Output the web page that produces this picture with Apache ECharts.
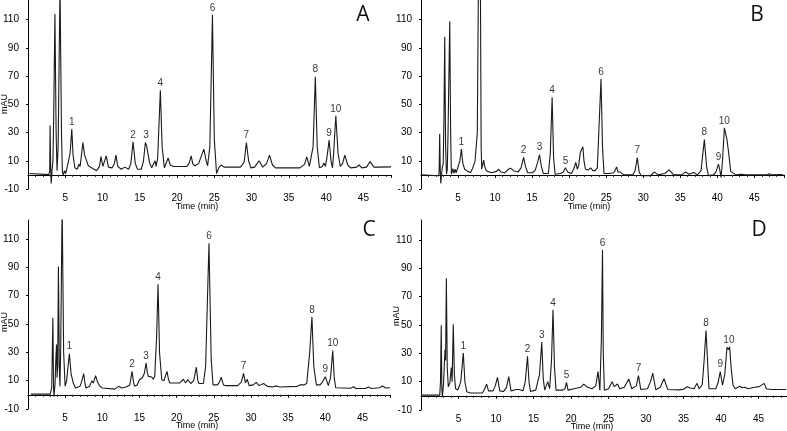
<!DOCTYPE html>
<html><head><meta charset="utf-8">
<script src="https://cdn.jsdelivr.net/npm/echarts@6/dist/echarts.min.js"></script>
<style>html,body{margin:0;padding:0;background:#fff}#c{width:787px;height:431px}</style>
</head><body><div id="c"></div>
<script>
// Chromatogram traces [time (min), mAU]
const traceA = [[0.2,1],[2.8,0.2],[2.92,3],[2.97,35],[3.05,5],[3.12,-6],[3.25,4],[3.35,10],[3.45,40],[3.62,114],[3.78,30],[3.9,3],[4.05,20],[4.3,135],[4.5,30],[4.62,2],[4.75,0],[4.9,3],[5.05,1],[5.2,4],[5.4,3],[5.65,15],[5.88,32.5],[6.05,14],[6.3,5],[6.6,4],[6.85,7.5],[7.0,6],[7.2,15],[7.37,23],[7.6,14],[8.1,6.5],[8.7,4.5],[9.2,3],[9.6,6],[9.8,13],[10.05,6],[10.2,5],[10.5,13.5],[10.8,5.5],[11.3,5],[11.6,8],[11.8,14],[12.05,6],[12.5,4],[13.0,5.5],[13.5,4],[13.8,8],[14.1,23.5],[14.4,8],[14.7,4],[15.2,4],[15.5,10],[15.75,23],[15.9,21],[16.05,20.5],[16.3,9],[16.6,5],[16.85,6],[17.05,10],[17.2,6],[17.4,12],[17.76,60],[18.0,20],[18.3,5],[18.55,6],[18.8,12],[19.1,7],[19.5,6],[20.5,6],[21.3,6],[21.6,8],[21.9,13.5],[22.1,8],[22.4,6.5],[22.9,8],[23.3,14],[23.6,18.3],[23.9,10],[24.1,6.5],[24.4,20],[24.75,113.5],[25.0,25],[25.3,1],[25.6,5],[25.9,7],[26.3,5.5],[27.5,5.5],[28.5,5.5],[29.0,9],[29.3,23],[29.6,10],[29.9,5],[30.4,5.5],[31.0,10],[31.5,5.5],[32.0,8],[32.4,14],[32.8,7],[33.2,5],[36.5,5],[37.1,7.5],[37.4,12.8],[37.75,6],[38.0,5],[38.25,20],[38.55,69.6],[38.8,20],[39.1,5],[39.5,6],[39.7,8.5],[39.9,6],[40.1,12],[40.4,24.7],[40.65,10],[40.85,5],[41.0,15],[41.3,41.9],[41.6,15],[41.9,6],[42.2,8],[42.5,14],[42.9,7],[43.3,5],[44.1,5.5],[44.4,7],[44.8,5],[45.4,5.5],[45.9,9.4],[46.4,5.5],[47.0,5.5],[48.7,5.7]];
const traceB = [[0,0],[2.4,-0.6],[2.46,5],[2.52,29],[2.6,3],[2.67,-6],[2.8,2],[2.9,6],[3.0,8],[3.1,40],[3.2,98],[3.32,20],[3.44,0.5],[3.55,4],[3.65,30],[3.88,109],[4.0,30],[4.1,0.5],[4.3,4.5],[4.45,1],[4.6,4],[4.75,1.5],[4.9,4],[5.1,5],[5.25,10],[5.45,18.3],[5.65,8],[5.9,4],[6.3,2.5],[6.7,1.7],[7.0,5],[7.3,10],[7.45,9],[7.6,30],[7.75,135],[8.02,135],[8.12,20],[8.2,4],[8.3,5],[8.46,10.5],[8.6,6],[8.8,3],[9.5,1.5],[10.2,2.5],[10.5,4],[10.8,2],[11.3,1.5],[11.8,4],[12.1,4.8],[12.5,3],[13.1,2],[13.5,5],[13.85,12.4],[14.1,6],[14.4,1.5],[15.0,1.5],[15.4,3],[15.75,9],[16.0,14.3],[16.25,6],[16.5,1],[17.2,1],[17.45,15],[17.7,55],[17.9,12],[18.1,0.5],[18.8,1],[19.2,2],[19.5,5],[19.8,2],[20.3,1],[20.6,4],[20.9,8.8],[21.1,4],[21.3,7],[21.5,15.9],[21.65,15],[21.85,20],[22.0,10],[22.2,4],[22.6,3.5],[22.9,5],[23.2,3],[23.5,3],[23.8,5],[24.0,30],[24.3,68],[24.5,20],[24.7,1],[25.5,1],[26.0,1.5],[26.2,3],[26.4,5.7],[26.6,2],[26.9,2],[27.1,1.5],[27.4,0],[28.6,0],[28.9,3],[29.2,12.3],[29.45,2],[29.7,-0.5],[31.0,-0.6],[31.5,2.1],[32.0,0],[32.9,1],[33.5,3.6],[34.1,0],[35.2,0],[35.7,2.1],[36.2,0.5],[36.8,1.7],[37.3,0],[37.8,3],[38.25,25],[38.55,6],[38.8,-0.5],[39.5,0],[39.8,2],[40.15,7.6],[40.35,3],[40.5,-1.8],[40.7,10],[40.95,33.4],[41.3,25],[41.5,17],[41.8,2.5],[42.0,2.5],[42.5,0],[43.2,0.5],[43.4,1],[43.8,0],[46.7,0],[47.0,0.8],[47.3,0],[48.5,0.3],[48.9,0]];
const traceC = [[0.4,0.5],[3.0,0.5],[3.2,5],[3.35,54.4],[3.45,5],[3.5,-1.1],[3.65,8],[3.75,25],[3.85,35.5],[3.92,12],[4.0,20],[4.1,90.6],[4.22,20],[4.3,6],[4.4,30],[4.6,135],[4.8,30],[5.0,6],[5.2,10],[5.57,29],[5.8,15],[6.1,8.3],[6.4,4.8],[7.0,6],[7.2,9],[7.5,15],[7.65,9],[7.8,4.8],[8.3,6],[8.6,10],[8.8,8.3],[9.1,13.5],[9.3,10],[9.6,6.5],[10.0,4.8],[11.7,4],[12.2,6],[12.6,4.8],[13.2,5.5],[13.7,7],[14.0,16.6],[14.2,9],[14.35,6],[14.7,7],[15.0,10.7],[15.2,9.5],[15.4,12],[15.65,15],[15.9,22.5],[16.05,16],[16.2,13],[16.65,12.6],[16.85,11],[17.05,13],[17.3,40],[17.5,78],[17.7,30],[18.0,10.7],[18.3,10],[18.7,16.6],[18.9,11],[19.1,8.3],[20.4,8.3],[20.9,11],[21.2,8.3],[21.5,10.7],[21.9,8],[22.3,10],[22.65,19.5],[22.85,10],[23.0,8],[23.6,8],[23.9,20],[24.35,107],[24.65,25],[24.9,7],[25.5,7],[25.75,9],[26.0,12.4],[26.3,7],[26.6,6.5],[28.2,6.5],[28.7,9],[29.0,15.2],[29.25,8.5],[29.5,11],[29.75,6.5],[30.3,7],[30.7,8.8],[31.1,6.5],[31.7,8],[32.2,6],[33.0,5.5],[33.3,6.3],[33.9,5.5],[36.2,6],[36.6,7],[37.1,7],[37.5,8],[37.9,30],[38.2,55],[38.45,20],[38.8,7],[39.3,7],[39.6,9],[40.0,12.8],[40.4,6.5],[40.7,12],[41.0,31.3],[41.2,12],[41.4,5],[43.4,4.6],[43.8,5.7],[44.1,4.5],[45.4,4.5],[45.8,5.5],[46.2,4.5],[47.3,5],[47.7,6.2],[48.1,4.8],[48.7,5]];
const traceD = [[0,0.5],[2.5,0.5],[2.6,10],[2.7,49.8],[2.78,5],[2.85,-0.7],[3.0,8],[3.2,32.6],[3.28,25],[3.38,83],[3.5,20],[3.64,6.4],[3.85,9],[4.04,20],[4.15,10],[4.3,50.5],[4.45,15],[4.6,5.2],[4.75,6.5],[4.9,4],[5.05,6],[5.3,10],[5.64,30.2],[5.85,10],[6.1,2.9],[6.6,2],[8.2,2],[8.45,4.5],[8.75,8.3],[9.0,3.5],[9.6,3.5],[9.9,7],[10.2,13],[10.5,3.5],[11.0,3],[11.4,6],[11.7,13.6],[12.0,3.5],[12.7,4.5],[13.1,4.5],[13.6,3.5],[13.9,10],[14.2,27.9],[14.4,10],[14.6,3],[15.3,4],[15.8,15],[16.1,37.9],[16.3,12],[16.5,4],[16.9,10],[17.15,5],[17.4,25],[17.6,60.7],[17.8,20],[18.0,4],[18.9,4],[19.2,5],[19.4,9.5],[19.6,4],[20.4,5],[21.3,6],[21.7,8.3],[22.2,6],[22.8,5],[23.3,7],[23.6,17.1],[23.85,4],[24.05,40],[24.2,103],[24.3,30],[24.45,4],[25.0,5],[25.5,10],[25.75,6.5],[26.2,8.3],[26.5,5],[27.1,6],[27.7,11.9],[28.1,5],[28.7,7],[29.0,14.3],[29.3,4.5],[30.2,5],[30.6,10],[30.9,16],[31.3,4.3],[31.9,6],[32.4,12],[32.9,4.5],[34.5,4.2],[35.0,4.6],[35.5,6.4],[35.9,5.5],[36.4,5],[36.8,8.8],[37.1,5],[37.5,8],[37.75,25],[38.0,46],[38.25,20],[38.4,5],[39.3,5],[39.6,9],[39.9,17.1],[40.2,7.5],[40.5,15],[40.8,34.3],[41.0,32.6],[41.15,34.5],[41.35,20],[41.6,7.5],[41.9,5],[42.5,6.7],[42.8,5.7],[43.2,6],[43.6,5],[44.5,6],[45.1,6.5],[45.75,8.8],[46.05,5],[46.6,4.5],[48.7,4.5]];

// Peak number labels [time, apex mAU, label]
const peaksA = [[5.88,32.5,'1'],[14.1,23.5,'2'],[15.85,23,'3'],[17.76,60,'4'],[24.75,113.5,'6'],[29.3,23,'7'],[38.55,69.6,'8'],[40.4,24.7,'9'],[41.3,41.9,'10']];
const peaksB = [[5.45,18.3,'1'],[13.85,12.4,'2'],[16.0,14.3,'3'],[17.7,55,'4'],[19.5,5,'5'],[24.3,68,'6'],[29.2,12.3,'7'],[38.25,25,'8'],[40.15,7.6,'9'],[40.95,33.4,'10']];
const peaksC = [[5.57,29,'1'],[14.0,16.6,'2'],[15.9,22.5,'3'],[17.5,78,'4'],[24.35,107,'6'],[29.0,15.2,'7'],[38.2,55,'8'],[40.0,12.8,'9'],[41.0,31.3,'10']];
const peaksD = [[5.64,30.2,'1'],[14.2,27.9,'2'],[16.1,37.9,'3'],[17.6,60.7,'4'],[19.4,9.5,'5'],[24.2,103,'6'],[29.0,14.3,'7'],[38.0,46,'8'],[39.9,17.1,'9'],[41.05,34.5,'10']];

const yTicks = [-10, 10, 30, 50, 70, 90, 110];
const xTicks = [5, 10, 15, 20, 25, 30, 35, 40, 45];
const panelNames = ['A', 'B', 'C', 'D'];
const yName = 'mAU';
const xName = 'Time (min)';

const chart = echarts.init(document.getElementById('c'), null, {renderer: 'canvas'});
const FONT = 'Liberation Sans Narrow, Liberation Sans, Arial, sans-serif';

const grids = [
  {left: 26, top: 0, width: 365, height: 189},
  {left: 421, top: 0, width: 363, height: 189},
  {left: 25, top: 220, width: 365, height: 189},
  {left: 421, top: 220, width: 366, height: 190}
];
const xMax = [48.7, 49, 48.7, 48.8];
const yMax = [124, 124, 123.4, 124];
const traces = [traceA, traceB, traceC, traceD];
const peaks = [peaksA, peaksB, peaksC, peaksD];

const xAxes = grids.map((g, i) => ({
  gridIndex: i, type: 'value', min: 0, max: xMax[i], interval: 5,
  axisLine: {show: true, lineStyle: {color: '#000', width: 1}},
  axisTick: {show: true, length: 3, lineStyle: {color: '#000'}},
  minorTick: {show: true, splitNumber: 5, length: 2, lineStyle: {color: '#222'}},
  splitLine: {show: false},
  axisLabel: {color: '#000', fontSize: 10, fontFamily: FONT, margin: 4, showMinLabel: false, showMaxLabel: false,
    formatter: v => xTicks.includes(v) ? String(v) : ''}
}));
const yAxes = grids.map((g, i) => ({
  gridIndex: i, type: 'value', min: -10, max: yMax[i], interval: 20,
  axisLine: {show: true, lineStyle: {color: '#000', width: 1}},
  axisTick: {show: true, length: 2, lineStyle: {color: '#000'}},
  splitLine: {show: false},
  axisLabel: {color: '#000', fontSize: 10, fontFamily: FONT, margin: 9, showMaxLabel: false,
    formatter: v => yTicks.includes(v) ? String(v) : ''}
}));

const series = [];
traces.forEach((t, i) => {
  series.push({type: 'line', xAxisIndex: i, yAxisIndex: i, data: t, showSymbol: false, symbol: 'none',
    lineStyle: {color: '#1a1a1a', width: 1.1}, clip: true, animation: false, silent: true});
  series.push({type: 'scatter', xAxisIndex: i, yAxisIndex: i, data: peaks[i], symbolSize: 0,
    encode: {x: 0, y: 1}, clip: false, animation: false, silent: true,
    label: {show: true, position: 'top', distance: 2, formatter: p => p.data[2],
      fontSize: 10, color: '#000', fontFamily: FONT}});
});

const letterPos = [[363, 15], [757, 15], [369, 230], [759, 230]];
const timePos = [[197, 207], [589, 207], [197, 426], [592, 427]];
const maePos = [[5, 104], [null, null], [5, 322], [397, 316]];
const graphic = [];
panelNames.forEach((n, i) => {
  graphic.push({type: 'text', x: letterPos[i][0], y: letterPos[i][1],
    style: {text: n, fontSize: 21, fontFamily: 'Open Sans, Noto Sans, sans-serif', fill: '#111', align: 'center', verticalAlign: 'middle'}});
  graphic.push({type: 'text', x: timePos[i][0], y: timePos[i][1],
    style: {text: xName, fontSize: 9, fontFamily: FONT, fill: '#000', align: 'center', verticalAlign: 'middle'}});
  if (maePos[i][0] !== null) {
    graphic.push({type: 'text', x: maePos[i][0], y: maePos[i][1], rotation: Math.PI / 2,
      style: {text: yName, fontSize: 9, fontFamily: FONT, fill: '#000', align: 'center', verticalAlign: 'middle'}});
  }
});

chart.setOption({
  animation: false,
  backgroundColor: '#fff',
  grid: grids,
  xAxis: xAxes,
  yAxis: yAxes,
  series: series,
  graphic: graphic
});
</script></body></html>
